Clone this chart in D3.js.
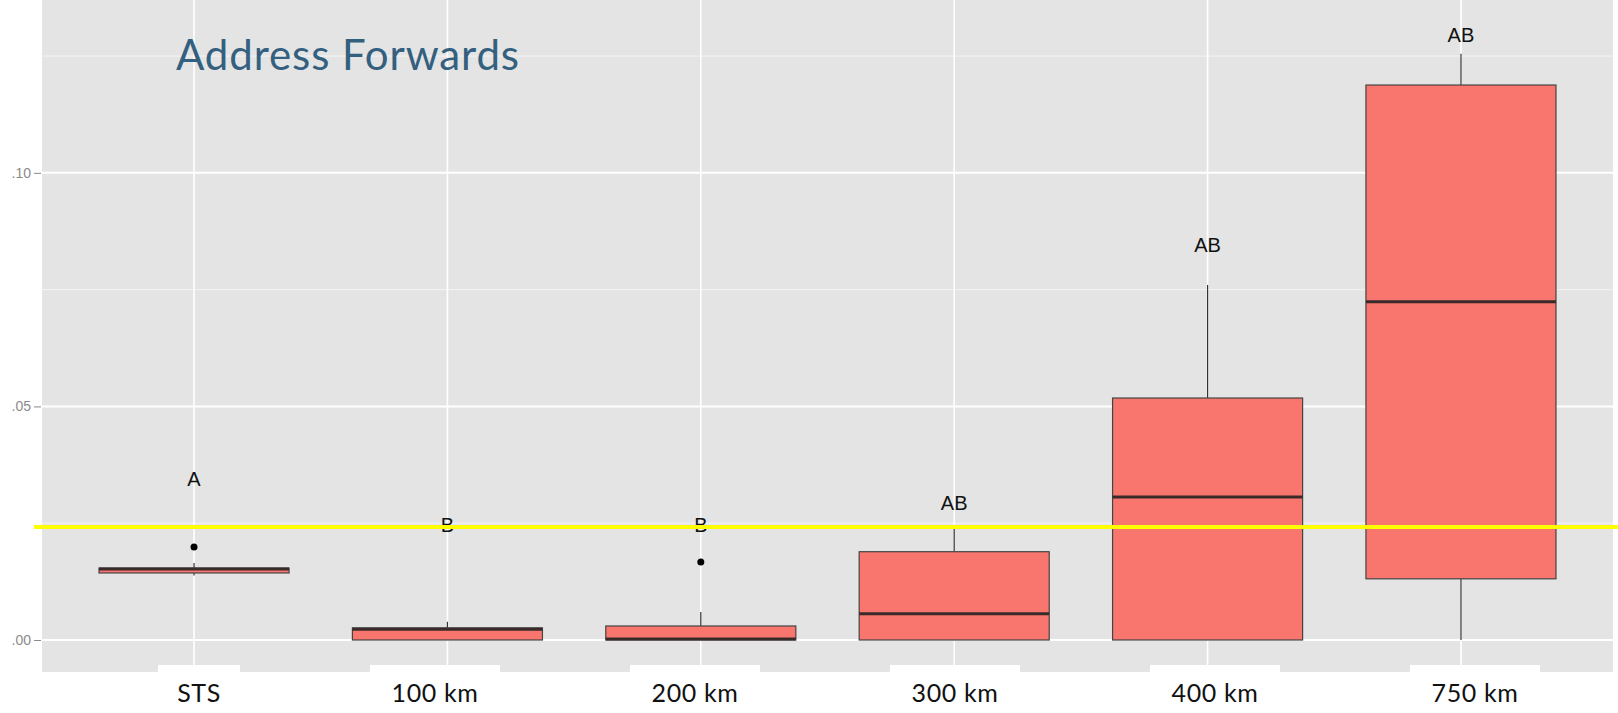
<!DOCTYPE html>
<html>
<head>
<meta charset="utf-8">
<script src="https://cdn.jsdelivr.net/npm/d3@7"></script>
<style>
  body { margin: 0; background: #fff; }
  svg { display: block; }
  .title { font-family: Lato, sans-serif; font-size: 42px; fill: #34607f; letter-spacing: 0.9px; }
  .sig { font-family: "Liberation Sans", Arial, sans-serif; font-size: 20px; fill: #111; }
  .cat { font-family: Lato, sans-serif; font-size: 25px; fill: #111; letter-spacing: 0.6px; }
  .tick text { font-family: "Liberation Sans", Arial, sans-serif; font-size: 14px; fill: #8a8a8a; }
</style>
</head>
<body>
<svg width="1618" height="713"></svg>
<script>
const categories = ['STS', '100 km', '200 km', '300 km', '400 km', '750 km'];
const whiskerLow = [0.0138, 0, 0, 0, 0, 0];
const q1 = [0.01435, 0, 0, 0, 0, 0.0131];
const median = [0.0152, 0.0023, 0.0002, 0.0056, 0.0306, 0.0724];
const q3 = [0.0154, 0.0026, 0.0030, 0.0189, 0.0518, 0.1188];
const whiskerHigh = [0.0165, 0.0039, 0.0060, 0.0238, 0.0760, 0.1255];
const outliers = [['STS', 0.0199], ['200 km', 0.0167]];
const letters = ['A', 'B', 'B', 'AB', 'AB', 'AB'];
const letterY = [0.0344, 0.0246, 0.0246, 0.0294, 0.0847, 0.1296];
const majorTicks = [0, 0.05, 0.10];
const minorTicks = [0.025, 0.075, 0.125];
const refLine = 0.0242;
const title = 'Address Forwards';

const svg = d3.select('svg');
const width = +svg.attr('width');

const panel = { left: 42, right: 1613, top: 0, bottom: 672 };

const data = categories.map((c, i) => ({
  cat: c, low: whiskerLow[i], q1: q1[i], med: median[i], q3: q3[i], high: whiskerHigh[i],
  letter: letters[i], letterY: letterY[i]
}));

const xScale = d3.scalePoint()
  .domain(categories)
  .range([panel.left, panel.right])
  .padding(0.6);

const yScale = d3.scaleLinear()
  .domain([-0.00685, 0.1370])
  .range([panel.bottom, panel.top]);

const boxWidth = xScale.step() * 0.75;

// panel
svg.append('rect')
  .attr('x', panel.left).attr('y', panel.top)
  .attr('width', panel.right - panel.left).attr('height', panel.bottom - panel.top)
  .attr('fill', '#e4e4e4');

const grid = svg.append('g');
grid.selectAll('.minor')
  .data(minorTicks)
  .join('line')
  .attr('x1', panel.left).attr('x2', panel.right)
  .attr('y1', d => yScale(d)).attr('y2', d => yScale(d))
  .attr('stroke', '#f4f4f4').attr('stroke-width', 1);
grid.selectAll('.major')
  .data(majorTicks)
  .join('line')
  .attr('x1', panel.left).attr('x2', panel.right)
  .attr('y1', d => yScale(d)).attr('y2', d => yScale(d))
  .attr('stroke', '#fff').attr('stroke-width', 2);
grid.selectAll('.vert')
  .data(categories)
  .join('line')
  .attr('x1', d => xScale(d)).attr('x2', d => xScale(d))
  .attr('y1', panel.top).attr('y2', panel.bottom)
  .attr('stroke', '#fff').attr('stroke-width', 1.6);

// y axis
const yAxis = d3.axisLeft(yScale)
  .tickValues(majorTicks)
  .tickSize(7)
  .tickPadding(3)
  .tickFormat(d => d3.format('.2f')(d).replace(/^0/, ''));
const yAxisGroup = svg.append('g')
  .attr('transform', `translate(${panel.left - 1}, 0)`)
  .call(yAxis);
yAxisGroup.select('.domain').remove();
yAxisGroup.selectAll('.tick line').attr('stroke', '#8a8a8a');

// boxplots
const boxes = svg.append('g');
const box = boxes.selectAll('g')
  .data(data)
  .join('g');

box.append('line')
  .attr('x1', d => xScale(d.cat)).attr('x2', d => xScale(d.cat))
  .attr('y1', d => yScale(d.high)).attr('y2', d => yScale(d.q3))
  .attr('stroke', '#333').attr('stroke-width', 1.2);
box.append('line')
  .attr('x1', d => xScale(d.cat)).attr('x2', d => xScale(d.cat))
  .attr('y1', d => yScale(d.q1)).attr('y2', d => yScale(d.low))
  .attr('stroke', '#333').attr('stroke-width', 1.2);
box.append('rect')
  .attr('x', d => xScale(d.cat) - boxWidth / 2)
  .attr('width', boxWidth)
  .attr('y', d => yScale(d.q3))
  .attr('height', d => yScale(d.q1) - yScale(d.q3))
  .attr('fill', '#f8766d')
  .attr('stroke', '#444').attr('stroke-width', 1.2);
box.append('line')
  .attr('x1', d => xScale(d.cat) - boxWidth / 2).attr('x2', d => xScale(d.cat) + boxWidth / 2)
  .attr('y1', d => yScale(d.med)).attr('y2', d => yScale(d.med))
  .attr('stroke', '#3a2b2b').attr('stroke-width', 3);

boxes.selectAll('circle')
  .data(outliers)
  .join('circle')
  .attr('cx', d => xScale(d[0]))
  .attr('cy', d => yScale(d[1]))
  .attr('r', 3.5)
  .attr('fill', '#000');

// significance letters
svg.append('g').selectAll('text')
  .data(data)
  .join('text')
  .attr('class', 'sig')
  .attr('x', d => xScale(d.cat))
  .attr('y', d => yScale(d.letterY))
  .attr('dy', '0.36em')
  .attr('text-anchor', 'middle')
  .text(d => d.letter);

// reference line
svg.append('line')
  .attr('x1', panel.left - 8).attr('x2', width)
  .attr('y1', yScale(refLine)).attr('y2', yScale(refLine))
  .attr('stroke', '#ffff00').attr('stroke-width', 4);

// title
svg.append('text')
  .attr('class', 'title')
  .attr('x', 176)
  .attr('y', 70)
  .text(title);

// category labels on white tabs
const labelScale = d3.scalePoint()
  .domain(categories)
  .range([175, 1475]);
const labelX = d => d === categories[0] ? labelScale(d) + 24 : labelScale(d);
const labels = svg.append('g').selectAll('g')
  .data(categories)
  .join('g');
labels.append('rect')
  .attr('x', d => labelX(d) - (d === categories[0] ? 41 : 65))
  .attr('width', d => d === categories[0] ? 82 : 130)
  .attr('y', 665)
  .attr('height', 48)
  .attr('fill', '#fff');
labels.append('text')
  .attr('class', 'cat')
  .attr('x', d => labelX(d))
  .attr('y', 702)
  .attr('text-anchor', 'middle')
  .text(d => d);
</script>
</body>
</html>
